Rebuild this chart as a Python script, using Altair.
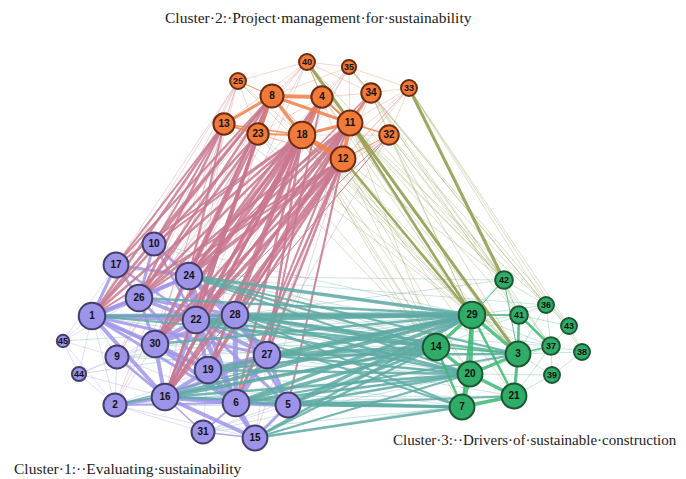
import math
import altair as alt
import pandas as pd

# ---- nodes (positions read in image pixels) ----
node_ids = [1, 2, 5, 6, 9, 10, 15, 16, 17, 19, 22, 24, 26, 27, 28, 30, 31, 44, 45,
            4, 8, 11, 12, 13, 18, 23, 25, 32, 33, 34, 35, 40,
            3, 7, 14, 20, 21, 29, 36, 37, 38, 39, 41, 42, 43]
node_x = [92, 115, 288, 236, 117, 154, 255, 165, 116, 208, 196, 189, 139, 267, 235, 155, 203, 79, 63,
          322, 272, 350, 343, 224, 302, 258, 238, 389, 409, 371, 349, 307,
          518, 462, 436, 470, 514, 472, 546, 551, 582, 552, 519, 504, 569]
node_y = [316, 405, 405, 403, 357, 244, 438, 397, 265, 370, 320, 276, 298, 355, 315, 344, 432, 374, 341,
          97, 96, 123, 159, 124, 135, 134, 81, 135, 88, 93, 67, 62,
          354, 407, 347, 374, 396, 315, 305, 346, 352, 375, 315, 280, 326]
node_r = [15, 13, 14, 15, 13, 13, 14, 15, 14, 15, 15, 15, 15, 15, 15, 15, 13, 8, 7,
          12, 13, 14, 14, 12, 15, 12, 9, 11, 9, 11, 8, 9,
          14, 14, 15, 14, 14, 15, 9, 10, 9, 9, 10, 10, 9]
node_cluster = [1] * 19 + [2] * 13 + [3] * 13

cluster_fill = {1: "#9d93e8", 2: "#f27a38", 3: "#2fac68"}
cluster_stroke = {1: "#433e6c", 2: "#6b2c12", 3: "#1c5633"}

# ---- edges: (source, target, width) ----
edges_c2 = [(8, 4, 4), (8, 13, 3), (8, 18, 3), (8, 11, 3), (13, 23, 2), (18, 12, 5), (11, 12, 4),
            (18, 11, 3), (4, 11, 2), (8, 23, 2), (23, 18, 2), (11, 32, 1.5), (4, 18, 2), (12, 32, 1),
            (25, 8, 1), (34, 11, 1.5), (40, 4, 1), (13, 18, 1.5)]
edges_c2_thin = [(40, 25), (40, 35), (40, 8), (40, 34), (35, 34), (35, 33), (35, 4), (25, 13), (25, 23),
                 (33, 34), (33, 32), (33, 11), (34, 32), (34, 12), (4, 12), (4, 23), (13, 12), (23, 12),
                 (18, 32), (40, 11), (35, 11), (25, 18), (40, 13), (33, 12), (35, 8), (34, 4)]
edges_c1 = [(1, 26, 5), (1, 30, 4), (1, 22, 4), (1, 16, 4), (24, 22, 5), (24, 28, 4), (24, 26, 4),
            (22, 28, 5), (22, 30, 4), (22, 19, 4), (22, 6, 5), (22, 16, 4), (28, 27, 5), (28, 6, 5),
            (27, 6, 5), (27, 5, 4), (6, 15, 4), (16, 6, 5), (16, 19, 4), (16, 15, 4), (16, 2, 4),
            (30, 16, 4), (30, 19, 4), (19, 6, 4), (17, 26, 3), (17, 24, 3), (10, 24, 3), (10, 26, 3),
            (1, 24, 3), (1, 17, 3), (1, 28, 4), (26, 28, 3), (26, 22, 4), (9, 16, 2.5), (6, 5, 4),
            (15, 5, 3), (30, 6, 4), (24, 6, 4), (24, 27, 4), (22, 27, 4), (30, 28, 4), (16, 27, 4),
            (1, 6, 3), (1, 19, 3), (1, 27, 3), (26, 30, 3), (26, 19, 3), (10, 22, 2.5), (17, 22, 2.5),
            (24, 30, 3), (2, 6, 2), (31, 15, 1.5), (31, 16, 1.5), (31, 6, 2), (16, 5, 3), (19, 27, 4),
            (19, 15, 3), (28, 5, 3), (22, 5, 3)]
edges_c1_thin = [(45, 1), (45, 9), (45, 44), (44, 1), (44, 9), (44, 2), (44, 16), (45, 17), (45, 2),
                 (2, 1), (2, 9), (9, 1), (9, 30), (9, 22), (2, 30), (2, 31), (2, 15), (31, 19), (31, 5),
                 (17, 10), (45, 26), (44, 30), (2, 19), (9, 6)]
edges_c3 = [(29, 14, 3.5), (29, 20, 4.5), (29, 3, 3.5), (29, 21, 2.5), (14, 20, 3.5), (14, 7, 2.5),
            (20, 7, 4.5), (20, 21, 3.5), (20, 3, 3), (7, 21, 3.5), (3, 21, 3), (41, 3, 2.5), (41, 37, 2.5),
            (29, 41, 1.5), (3, 37, 1.5), (14, 3, 1.5), (29, 7, 2), (42, 29, 1), (42, 3, 1)]
edges_c3_thin = [(42, 36), (42, 41), (36, 41), (36, 43), (36, 37), (43, 37), (43, 38), (37, 38),
                 (38, 39), (37, 39), (39, 3), (39, 21), (41, 43), (42, 37), (36, 3), (3, 38), (41, 21),
                 (29, 36), (29, 37), (20, 37), (21, 37), (39, 20), (14, 41), (42, 14)]
edges_c12 = [(12, 24, 3.5), (12, 22, 3.5), (12, 16, 3.5), (12, 30, 2.5), (12, 19, 2.5), (12, 6, 2.5),
             (12, 27, 2.5), (12, 28, 2.5), (18, 24, 3.5), (18, 22, 3.5), (18, 16, 3.5), (18, 30, 3.5),
             (18, 26, 2.5), (18, 1, 2.5), (18, 19, 2.5), (18, 6, 2.5), (18, 28, 2.5), (11, 24, 2.5),
             (11, 22, 2.5), (11, 16, 2.5), (11, 26, 2.5), (11, 30, 2.5), (11, 28, 2.5), (8, 24, 2.5),
             (8, 22, 2.5), (8, 26, 2.5), (8, 1, 2.5), (8, 16, 2.5), (8, 30, 2.5), (23, 24, 2.5),
             (23, 26, 2.5), (23, 1, 2.5), (23, 22, 2.5), (23, 16, 2), (13, 1, 2.5), (13, 26, 2.5),
             (13, 17, 2), (13, 10, 2), (13, 24, 2), (4, 24, 2.5), (4, 22, 2.5), (4, 16, 2.5), (4, 19, 2),
             (4, 27, 2), (12, 5, 2), (11, 6, 2), (11, 19, 2), (8, 10, 2), (8, 17, 2), (18, 10, 2),
             (18, 17, 2), (18, 27, 2.5), (12, 1, 2), (34, 24, 1.5), (34, 22, 1.5), (32, 22, 1),
             (32, 16, 1), (4, 30, 2), (12, 26, 2)]
edges_c12_thin = [(25, 1), (25, 17), (25, 10), (25, 24), (25, 26), (40, 1), (40, 24), (40, 17), (35, 24),
                  (35, 22), (33, 24), (33, 22), (32, 24), (32, 28), (34, 28), (34, 16), (13, 9), (13, 2),
                  (13, 30), (23, 30), (23, 9), (8, 9), (4, 28), (4, 26), (11, 27), (12, 15), (18, 15),
                  (11, 5), (13, 22), (23, 19), (40, 22), (35, 16), (33, 16), (32, 6), (34, 19), (25, 30),
                  (8, 2), (13, 16)]
edges_c13 = [(28, 29, 5), (28, 14, 3.5), (28, 20, 2.5), (24, 29, 3.5), (24, 14, 2.5), (22, 29, 3.5),
             (22, 14, 2.5), (22, 20, 2.5), (27, 29, 3.5), (27, 14, 3.5), (27, 20, 2.5), (6, 29, 3.5),
             (6, 14, 3.5), (6, 20, 2.5), (6, 7, 2.5), (5, 29, 3.5), (5, 14, 2.5), (5, 20, 2.5), (5, 7, 2.5),
             (5, 21, 2), (15, 29, 2.5), (15, 14, 2.5), (15, 7, 2.5), (15, 20, 2), (16, 29, 3.5),
             (16, 14, 3.5), (16, 20, 2.5), (19, 29, 3.5), (19, 14, 2.5), (30, 29, 2.5), (26, 29, 2.5),
             (1, 29, 2.5), (2, 29, 1.5), (2, 14, 1.5), (28, 3, 2.5), (27, 3, 2.5), (6, 3, 2), (24, 3, 2),
             (22, 7, 2), (16, 7, 2.5), (19, 20, 2.5), (28, 7, 2), (24, 20, 2), (1, 14, 2)]
edges_c13_thin = [(44, 29), (9, 14), (9, 29), (31, 14), (31, 7), (31, 20), (17, 29), (10, 29), (24, 42),
                  (28, 42), (26, 14), (22, 41), (27, 41), (6, 21), (15, 21), (5, 3), (28, 41), (24, 36),
                  (22, 37), (16, 21), (2, 20), (2, 7), (1, 20), (30, 14), (30, 20), (9, 20), (19, 7),
                  (27, 21), (26, 20), (10, 14), (17, 14), (24, 37), (1, 41), (22, 3), (45, 29)]
edges_c23 = [(40, 3, 3), (33, 42, 3), (11, 29, 2.5), (12, 29, 2.5)]
edges_c23_thin = [(8, 29), (8, 14), (18, 29), (18, 14), (18, 20), (11, 14), (11, 3), (11, 42), (12, 14),
                  (12, 20), (12, 3), (12, 42), (4, 29), (4, 42), (4, 36), (34, 42), (34, 36), (34, 29),
                  (32, 29), (32, 42), (32, 3), (32, 36), (33, 36), (33, 43), (33, 41), (35, 42), (35, 36),
                  (40, 42), (40, 29), (25, 29), (13, 29), (23, 29), (23, 14), (13, 14), (8, 3), (4, 3),
                  (34, 41), (32, 37), (33, 38), (35, 43), (18, 3), (11, 41), (12, 21), (18, 7)]

edge_groups = [
    (edges_c1, edges_c1_thin, "#a096ea"),
    (edges_c12, edges_c12_thin, "#c9788f"),
    (edges_c13, edges_c13_thin, "#5eaaa4"),
    (edges_c23, edges_c23_thin, "#8e9a4a"),
    (edges_c2, edges_c2_thin, "#f07f45"),
    (edges_c3, edges_c3_thin, "#3db876"),
]

pos = {n: (x, y) for n, x, y in zip(node_ids, node_x, node_y)}
rows = []
for thick, thin, col in edge_groups:
    for a, b in thin:
        rows.append(dict(x=pos[a][0], y=pos[a][1], x2=pos[b][0], y2=pos[b][1],
                         w=0.7, color=col, op=0.45))
for thick, thin, col in edge_groups:
    for a, b, w in thick:
        rows.append(dict(x=pos[a][0], y=pos[a][1], x2=pos[b][0], y2=pos[b][1],
                         w=w, color=col, op=0.85))
edges_df = pd.DataFrame(rows)

nodes_df = pd.DataFrame(dict(
    id=[str(i) for i in node_ids], x=node_x, y=node_y,
    size=[math.pi * r * r for r in node_r],
    fill=[cluster_fill[c] for c in node_cluster],
    stroke=[cluster_stroke[c] for c in node_cluster],
    fs=[10 if r >= 11 else 9 for r in node_r],
))

titles = ["Cluster·2:·Project·management·for·sustainability",
          "Cluster·3:··Drivers·of·sustainable·construction",
          "Cluster·1:··Evaluating·sustainability"]
title_x = [165, 393, 14]
title_y = [18, 440, 469]
title_fs = [15.5, 15, 15.5]
titles_df = pd.DataFrame(dict(t=titles, x=title_x, y=title_y, fs=title_fs))

xs = alt.Scale(domain=[8, 678])
ys = alt.Scale(domain=[8, 479], reverse=True)
X = lambda f: alt.X(f, type="quantitative", scale=xs, axis=None)
Y = lambda f: alt.Y(f, type="quantitative", scale=ys, axis=None)

edge_layer = alt.Chart(edges_df).mark_rule(strokeCap="round").encode(
    x=X("x"), y=Y("y"), x2="x2", y2="y2",
    color=alt.Color("color:N", scale=None),
    strokeWidth=alt.StrokeWidth("w:Q", scale=None),
    opacity=alt.Opacity("op:Q", scale=None),
)

node_layer = alt.Chart(nodes_df).mark_circle(opacity=1, strokeWidth=2).encode(
    x=X("x"), y=Y("y"),
    size=alt.Size("size:Q", scale=None),
    color=alt.Color("fill:N", scale=None),
    stroke=alt.Stroke("stroke:N", scale=None),
)

label_layer = alt.Chart(nodes_df).mark_text(
    font="Liberation Sans", fontWeight="bold", color="#111111", baseline="middle", align="center"
).encode(
    x=X("x"), y=Y("y"), text="id:N",
    size=alt.Size("fs:Q", scale=None),
)

title_layer = alt.Chart(titles_df).mark_text(
    font="Liberation Serif", color="#222222", align="left", baseline="middle"
).encode(x=X("x"), y=Y("y"), text="t:N", size=alt.Size("fs:Q", scale=None))

chart = alt.layer(edge_layer, node_layer, label_layer, title_layer).properties(
    width=670, height=471, padding=0, background="white",
    autosize=alt.AutoSizeParams(type="none"),
).configure_view(stroke=None)

chart.save("out.html", embed_options={"renderer": "svg", "actions": False})
